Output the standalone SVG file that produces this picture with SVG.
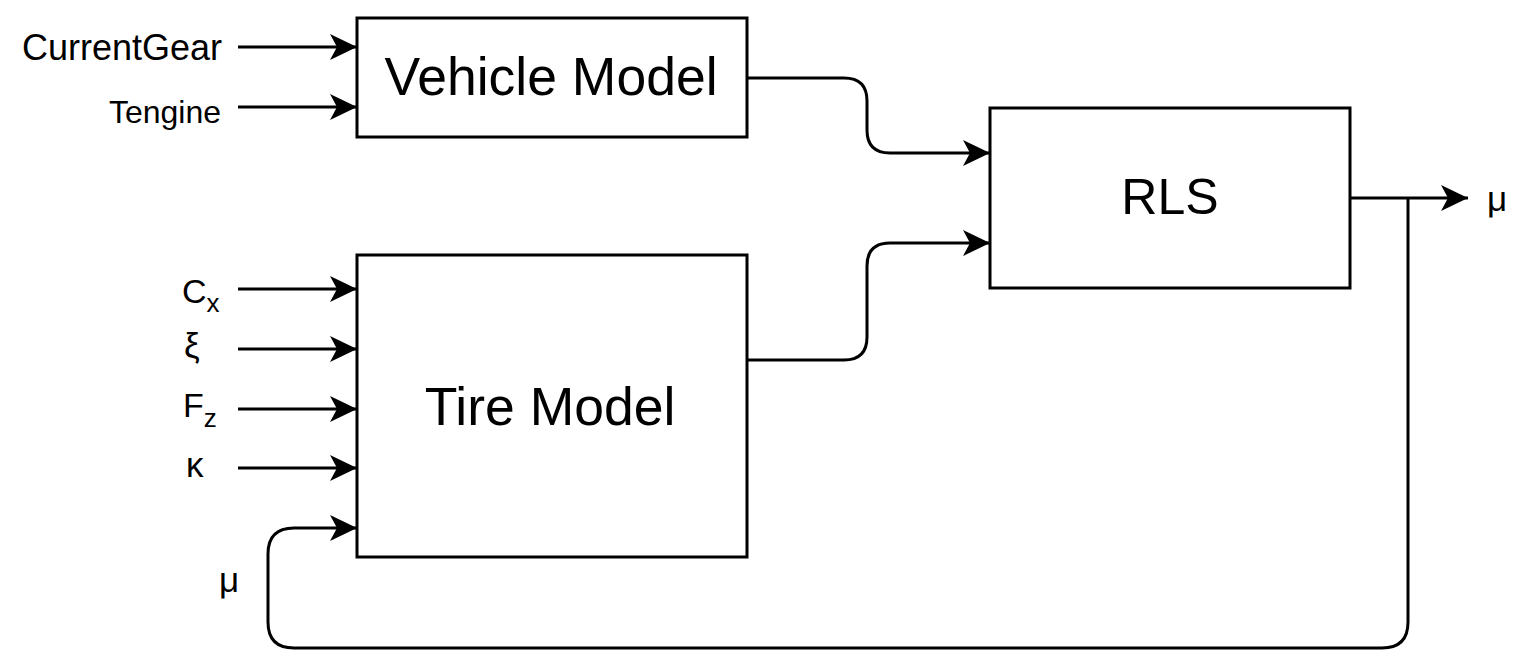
<svg xmlns="http://www.w3.org/2000/svg" width="1538" height="672" viewBox="0 0 1538 672">
<style>
.box{fill:#fff;stroke:#000;stroke-width:3}
.ln{fill:none;stroke:#000;stroke-width:3;marker-end:url(#ah)}
.t{font-family:"Liberation Sans",Arial,sans-serif;fill:#000}
.big{font-size:53.5px;text-anchor:middle}
.lab{font-size:32px}
</style>
<defs>
<marker id="ah" markerUnits="userSpaceOnUse" markerWidth="30" markerHeight="30" viewBox="-28 -14 30 28" refX="0" refY="0" orient="auto">
<path d="M-27,-13 L0,0 L-27,13 L-20,0 Z" fill="#000"/>
</marker>
</defs>
<rect width="1538" height="672" fill="#fff"/>
<g id="connectors">
<line class="ln" x1="238" y1="47" x2="357" y2="47"/>
<line class="ln" x1="238" y1="107" x2="357" y2="107"/>
<line class="ln" x1="238" y1="289" x2="357" y2="289"/>
<line class="ln" x1="238" y1="349" x2="357" y2="349"/>
<line class="ln" x1="238" y1="409" x2="357" y2="409"/>
<line class="ln" x1="238" y1="468" x2="357" y2="468"/>
<path class="ln" d="M747,78 H844 Q867,78 867,101 V130 Q867,153 890,153 H990"/>
<path class="ln" d="M747,360 H844 Q867,360 867,337 V266 Q867,243 890,243 H990"/>
<line class="ln" x1="1350" y1="198" x2="1468" y2="198"/>
<path class="ln" d="M1408,198 V622 Q1408,648 1382,648 H294 Q268,648 268,622 V554 Q268,528 294,528 H357"/>
</g>
<g id="vehicle-model">
<rect class="box" x="357" y="18" width="390" height="119"/>
<text class="t big" x="551" y="95">Vehicle Model</text>
</g>
<g id="tire-model">
<rect class="box" x="357" y="255" width="390" height="302"/>
<text class="t big" x="550" y="425">Tire Model</text>
</g>
<g id="rls">
<rect class="box" x="990" y="108" width="360" height="180"/>
<text class="t big" x="1170" y="214" style="font-size:50px">RLS</text>
</g>
<g id="labels">
<text class="t" x="222" y="60" text-anchor="end" font-size="36">CurrentGear</text>
<text class="t lab" x="221" y="123" text-anchor="end">Tengine</text>
<text class="t" x="182" y="303" font-size="34">C<tspan font-size="26" dy="9">x</tspan></text>
<text class="t" x="184" y="358" font-size="35">ξ</text>
<text class="t" x="183" y="417" font-size="34">F<tspan font-size="26" dy="10">z</tspan></text>
<text class="t" x="186" y="477" font-size="35">κ</text>
<text class="t" x="219" y="592" font-size="35">μ</text>
<text class="t" x="1487" y="211" font-size="35">μ</text>
</g>
</svg>
